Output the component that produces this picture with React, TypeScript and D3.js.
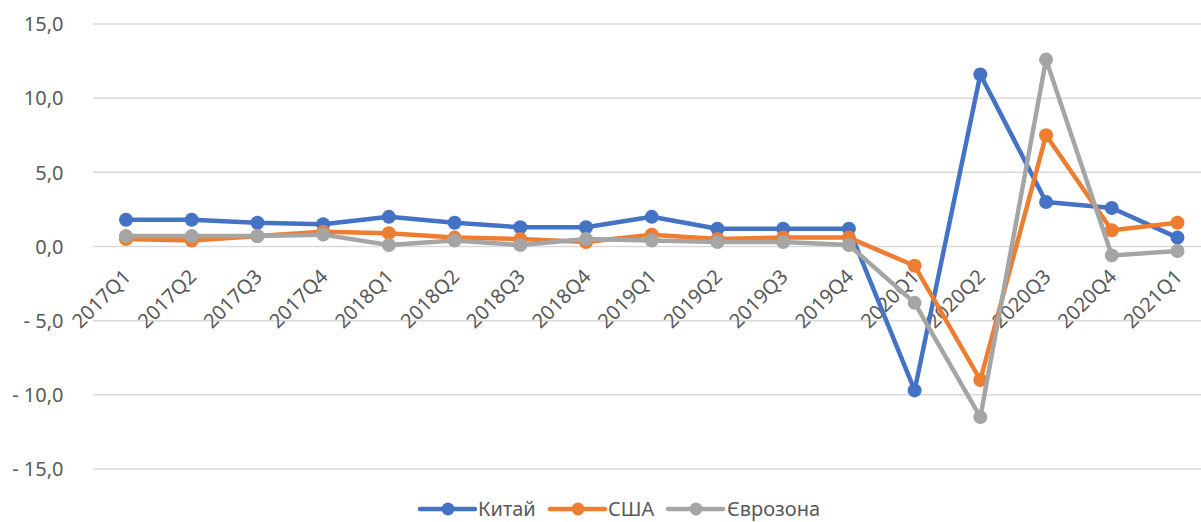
import React from "react";
import * as d3 from "d3";

const categories = [
  "2017Q1", "2017Q2", "2017Q3", "2017Q4",
  "2018Q1", "2018Q2", "2018Q3", "2018Q4",
  "2019Q1", "2019Q2", "2019Q3", "2019Q4",
  "2020Q1", "2020Q2", "2020Q3", "2020Q4",
  "2021Q1",
];
const china = [1.8, 1.8, 1.6, 1.5, 2.0, 1.6, 1.3, 1.3, 2.0, 1.2, 1.2, 1.2, -9.7, 11.6, 3.0, 2.6, 0.6];
const usa = [0.5, 0.4, 0.7, 1.0, 0.9, 0.6, 0.5, 0.3, 0.8, 0.5, 0.6, 0.6, -1.3, -9.0, 7.5, 1.1, 1.6];
const euro = [0.7, 0.7, 0.7, 0.8, 0.1, 0.4, 0.1, 0.5, 0.4, 0.3, 0.3, 0.1, -3.8, -11.5, 12.6, -0.6, -0.3];
const yTicks = [15, 10, 5, 0, -5, -10, -15];
const seriesNames = ["Китай", "США", "Єврозона"];
const seriesColors = ["#4472C4", "#ED7D31", "#A5A5A5"];

const W = 1201;
const H = 522;
const FONT = "'Noto Sans', sans-serif";
const FS = 20;
const LEG_Y = 509;

export default function App() {
  const x = d3.scalePoint<string>().domain(categories).range([126, 1177.5]);
  const y = d3.scaleLinear().domain([-15, 15]).range([469, 24]);
  const fmt = (v: number) => {
    const s = d3.format(".1f")(Math.abs(v)).replace(".", ",");
    return v < 0 ? "- " + s : s;
  };
  const line = d3
    .line<number>()
    .x((_, i) => x(categories[i]) as number)
    .y((d) => y(d));
  const series = [china, usa, euro];
  const legendItems = [
    { lx: 420, tx: 478 },
    { lx: 550, tx: 608 },
    { lx: 668, tx: 727 },
  ];
  return (
    <svg
      width={W}
      height={H}
      style={{ position: "absolute", left: 0, top: 0, display: "block", background: "#fff" }}
    >
      <rect x={0} y={0} width={W} height={H} fill="#fff" />
      {yTicks.map((t) => (
        <g key={t}>
          <line x1={93} x2={1210} y1={y(t)} y2={y(t)} stroke="#D9D9D9" strokeWidth={1.5} />
          <text
            x={63.5}
            y={y(t)}
            dy="0.36em"
            textAnchor="end"
            fontFamily={FONT}
            fontSize={FS}
            fill="#595959"
          >
            {fmt(t)}
          </text>
        </g>
      ))}
      {categories.map((c) => {
        const cx = x(c) as number;
        return (
          <text
            key={c}
            transform={`translate(${cx + 6},${278}) rotate(-45)`}
            textAnchor="end"
            fontFamily={FONT}
            fontSize={FS}
            fill="#595959"
          >
            {c}
          </text>
        );
      })}
      {series.map((s, si) => (
        <g key={si}>
          <path
            d={line(s) as string}
            fill="none"
            stroke={seriesColors[si]}
            strokeWidth={4.5}
            strokeLinejoin="round"
            strokeLinecap="round"
          />
          {s.map((v, i) => (
            <circle key={i} cx={x(categories[i]) as number} cy={y(v)} r={7} fill={seriesColors[si]} />
          ))}
        </g>
      ))}
      {legendItems.map((li, i) => (
        <g key={i}>
          <line
            x1={li.lx}
            x2={li.lx + 55}
            y1={LEG_Y}
            y2={LEG_Y}
            stroke={seriesColors[i]}
            strokeWidth={4.5}
            strokeLinecap="round"
          />
          <circle cx={li.lx + 28} cy={LEG_Y} r={6.5} fill={seriesColors[i]} />
          <text x={li.tx} y={LEG_Y} dy="0.36em" fontFamily={FONT} fontSize={FS} fill="#595959">
            {seriesNames[i]}
          </text>
        </g>
      ))}
    </svg>
  );
}
